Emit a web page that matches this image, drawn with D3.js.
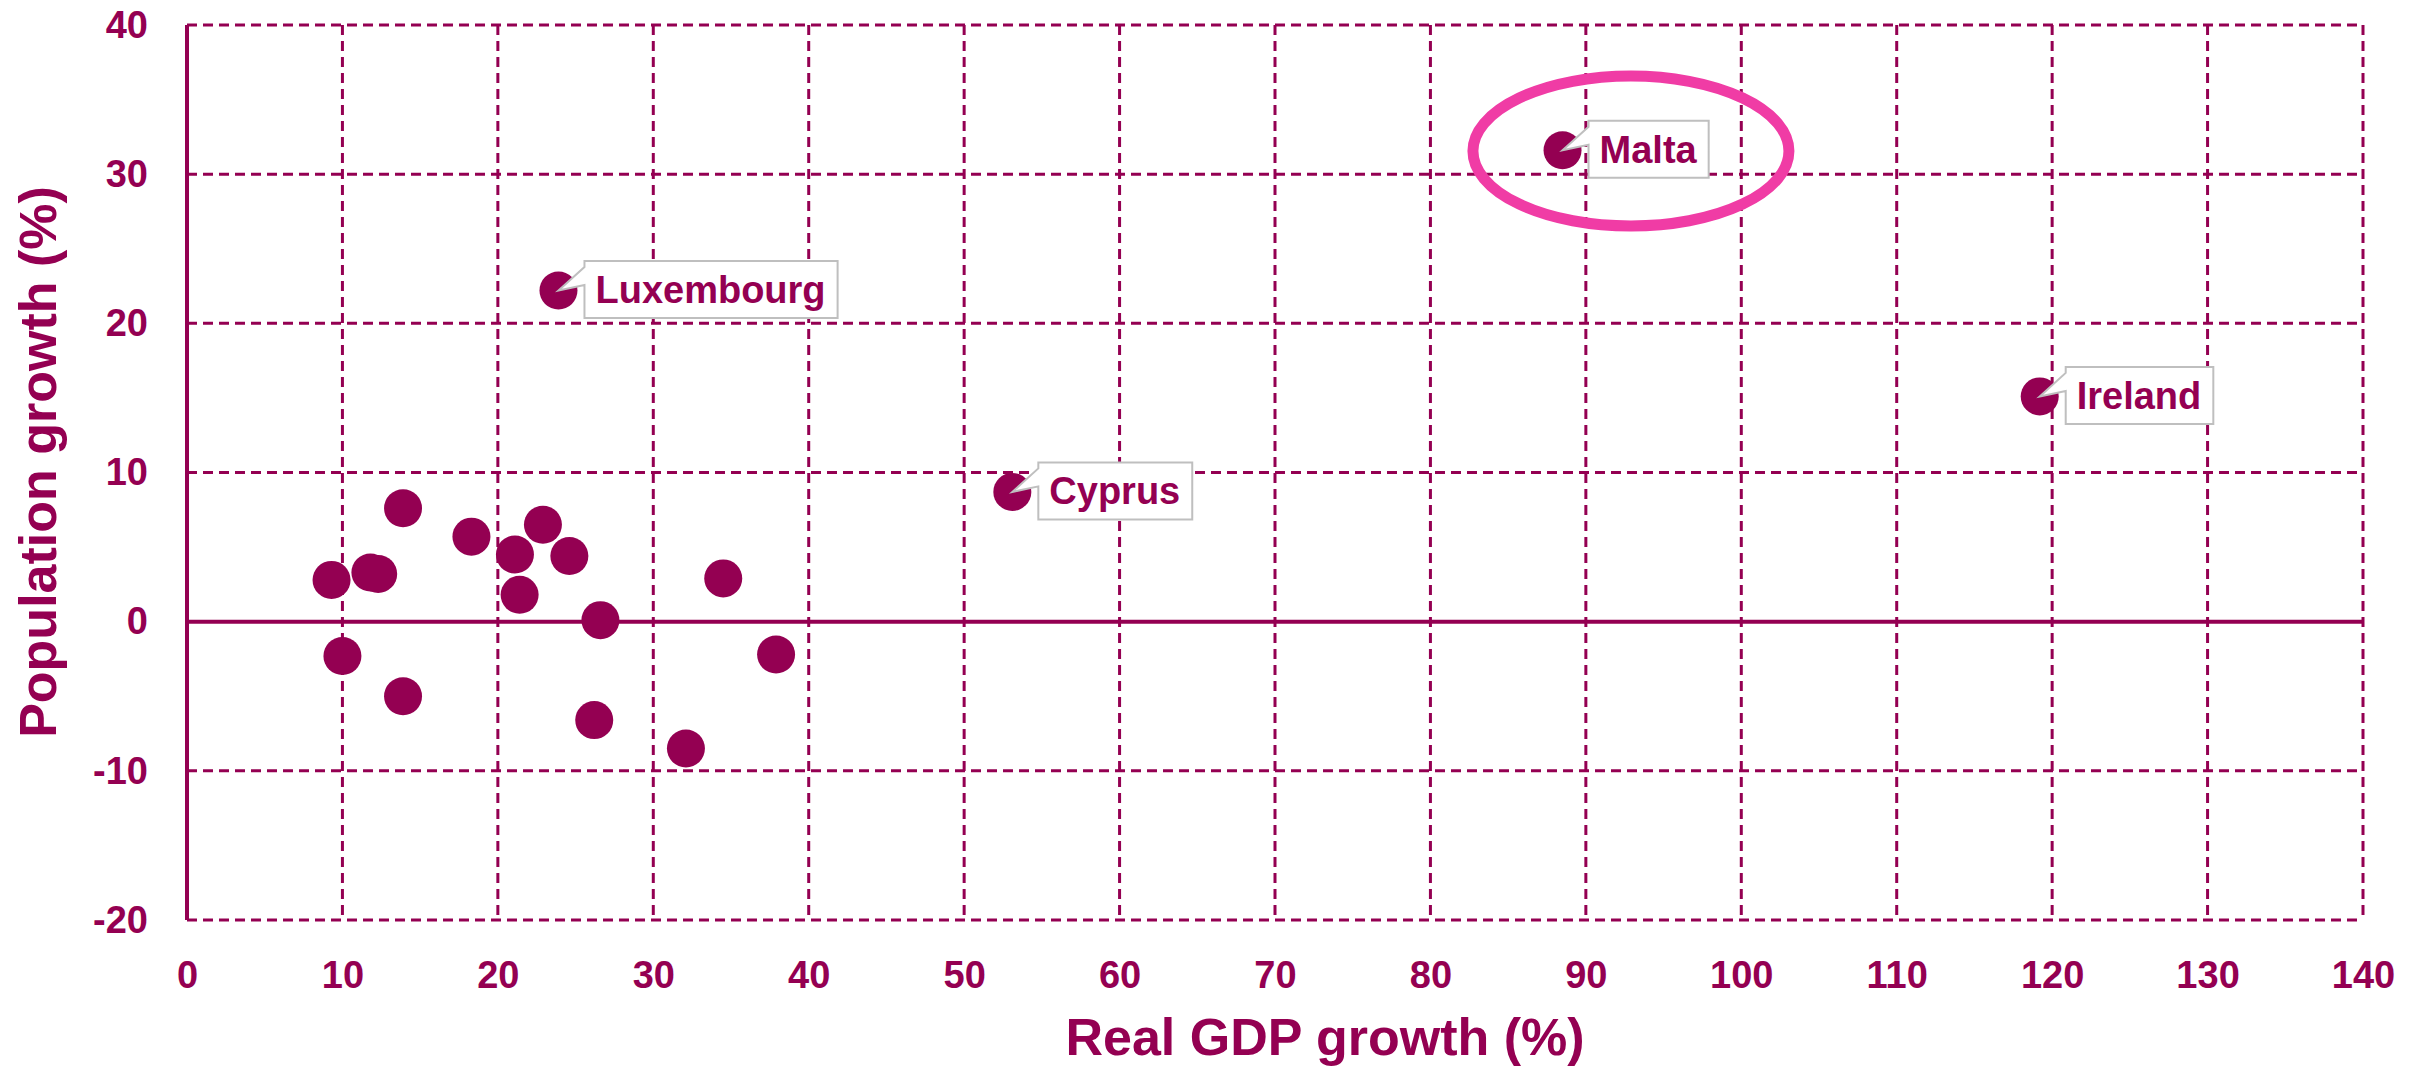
<!DOCTYPE html>
<html>
<head>
<meta charset="utf-8">
<script src="https://cdn.jsdelivr.net/npm/d3@7"></script>
<style>
  body { margin: 0; background: #fff; }
  svg { display: block; font-family: 'Liberation Sans', Arial, sans-serif; }
</style>
</head>
<body>
<div id="chart"></div>
<script>
// values
let gdpGrowth = [9.3, 11.8, 12.3, 13.9, 18.3, 21.1, 22.9, 24.6, 21.4, 26.6, 34.5, 10.0, 13.9, 37.9, 26.2, 32.1, 23.9, 88.5, 53.1, 119.2]
let popGrowth = [2.8, 3.3, 3.2, 7.6, 5.7, 4.5, 6.5, 4.4, 1.8, 0.1, 2.9, -2.3, -5.0, -2.2, -6.6, -8.5, 22.2, 31.6, 8.7, 15.1]
let countryLabels = [null, null, null, null, null, null, null, null, null, null, null, null, null, null, null, null, 'Luxembourg', 'Malta', 'Cyprus', 'Ireland']
let xTicks = [0, 10, 20, 30, 40, 50, 60, 70, 80, 90, 100, 110, 120, 130, 140]
let yTicks = [-20, -10, 0, 10, 20, 30, 40]
let highlighted = 'Malta'

let color = '#940052'
let margin = { top: 25, left: 187, right: 62, bottom: 148 }
let width = 2425 - margin.left - margin.right
let height = 1068 - margin.top - margin.bottom

let root = d3
  .select('#chart')
  .append('svg')
  .attr('width', 2425)
  .attr('height', 1068)

let svg = root
  .append('g')
  .attr('transform', 'translate(' + margin.left + ',' + margin.top + ')')

let xPositionScale = d3.scaleLinear().domain([0, 140]).range([0, width])
let yPositionScale = d3.scaleLinear().domain([-20, 40]).range([height, 0])

let points = gdpGrowth.map((g, i) => ({ gdp: g, pop: popGrowth[i], name: countryLabels[i] }))

// dashed grid
svg
  .selectAll('.h-grid')
  .data(yTicks.filter(d => d !== 0))
  .enter()
  .append('line')
  .attr('class', 'h-grid')
  .attr('x1', 0)
  .attr('x2', width)
  .attr('y1', d => yPositionScale(d))
  .attr('y2', d => yPositionScale(d))
  .attr('stroke', color)
  .attr('stroke-width', 3)
  .attr('stroke-dasharray', '10,6')

svg
  .selectAll('.v-grid')
  .data(xTicks.filter(d => d !== 0))
  .enter()
  .append('line')
  .attr('class', 'v-grid')
  .attr('x1', d => xPositionScale(d))
  .attr('x2', d => xPositionScale(d))
  .attr('y1', 0)
  .attr('y2', height)
  .attr('stroke', color)
  .attr('stroke-width', 3)
  .attr('stroke-dasharray', '10,6')

// solid axis lines
svg
  .append('line')
  .attr('x1', xPositionScale(0))
  .attr('x2', xPositionScale(0))
  .attr('y1', yPositionScale(40))
  .attr('y2', yPositionScale(-20))
  .attr('stroke', color)
  .attr('stroke-width', 4)

svg
  .append('line')
  .attr('x1', 0)
  .attr('x2', width)
  .attr('y1', yPositionScale(0))
  .attr('y2', yPositionScale(0))
  .attr('stroke', color)
  .attr('stroke-width', 4)

// tick labels (plain hyphen for negatives, as in the original)
let yAxis = d3
  .axisLeft(yPositionScale)
  .tickValues(yTicks)
  .tickFormat(d => String(d))
  .tickSize(0)
  .tickPadding(39)
svg.append('g').attr('class', 'axis y-axis').call(yAxis)

let xAxis = d3
  .axisBottom(xPositionScale)
  .tickValues(xTicks)
  .tickFormat(d => String(d))
  .tickSize(0)
  .tickPadding(41)
svg
  .append('g')
  .attr('class', 'axis x-axis')
  .attr('transform', 'translate(0,' + height + ')')
  .call(xAxis)

svg.selectAll('.axis .domain').remove()
svg
  .selectAll('.axis text')
  .attr('fill', color)
  .attr('font-size', 38)
  .attr('font-weight', 'bold')
  .attr('font-family', "'Liberation Sans', Arial, sans-serif")

// dots
svg
  .selectAll('.dot')
  .data(points)
  .enter()
  .append('circle')
  .attr('class', 'dot')
  .attr('cx', d => xPositionScale(d.gdp))
  .attr('cy', d => yPositionScale(d.pop))
  .attr('r', 19)
  .attr('fill', color)

// callout labels
let labelled = points.filter(d => d.name)
let callouts = svg
  .selectAll('.callout')
  .data(labelled)
  .enter()
  .append('g')
  .attr('class', 'callout')

callouts.each(function(d) {
  let g = d3.select(this)
  let cx = xPositionScale(d.gdp)
  let cy = yPositionScale(d.pop)
  let left = cx + 26
  let boxH = 57
  let top = cy - 1 - boxH / 2

  let path = g.append('path')
  let txt = g
    .append('text')
    .attr('x', left + 11)
    .attr('y', top + boxH / 2 + 13.5)
    .attr('fill', color)
    .attr('font-size', 38)
    .attr('font-weight', 'bold')
    .text(d.name)

  let w = txt.node().getComputedTextLength() + 23
  path
    .attr('d', 'M' + left + ',' + top +
      'H' + (left + w) +
      'V' + (top + boxH) +
      'H' + left +
      'V' + (top + 24) +
      'L' + cx + ',' + cy +
      'L' + left + ',' + (top + 6) + 'Z')
    .attr('fill', '#fff')
    .attr('stroke', '#bfbfbf')
    .attr('stroke-width', 2)
  txt.raise()
})

// highlight ring around Malta
let hl = points.find(d => d.name === highlighted)
svg
  .append('ellipse')
  .attr('cx', xPositionScale(hl.gdp + 4.4))
  .attr('cy', yPositionScale(hl.pop - 0.05))
  .attr('rx', 158)
  .attr('ry', 75)
  .attr('fill', 'none')
  .attr('stroke', '#f03ca5')
  .attr('stroke-width', 11)

// axis titles
root
  .append('text')
  .attr('x', 1325)
  .attr('y', 1055)
  .attr('text-anchor', 'middle')
  .attr('fill', color)
  .attr('font-size', 52)
  .attr('font-weight', 'bold')
  .text('Real GDP growth (%)')

root
  .append('text')
  .attr('transform', 'translate(56,462) rotate(-90)')
  .attr('text-anchor', 'middle')
  .attr('fill', color)
  .attr('font-size', 52)
  .attr('font-weight', 'bold')
  .text('Population growth (%)')
</script>
</body>
</html>
